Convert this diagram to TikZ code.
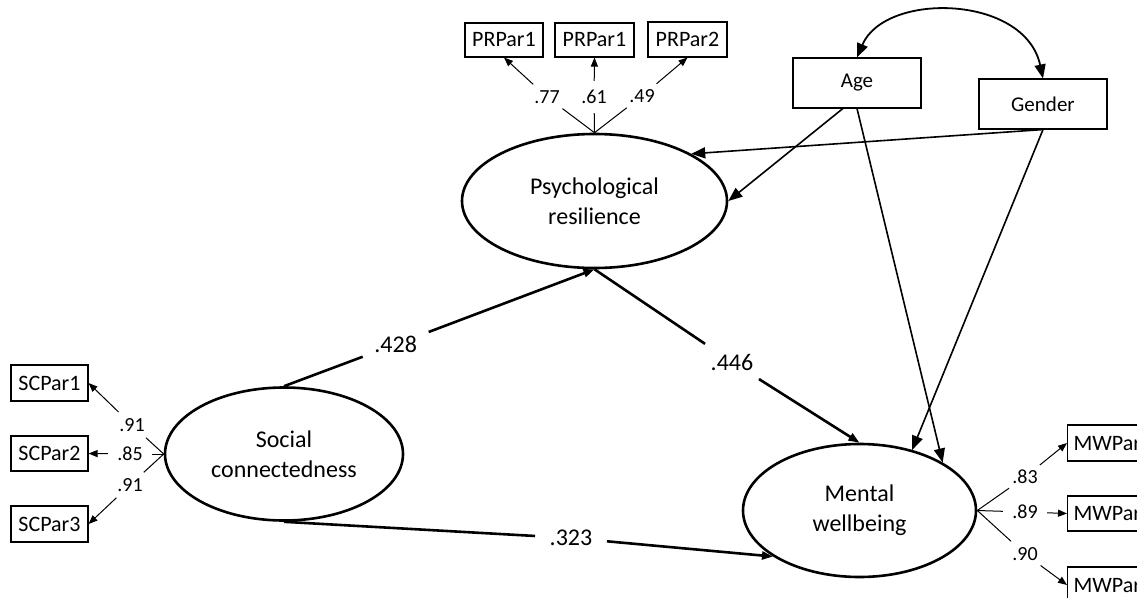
\documentclass[tikz,border=0pt]{standalone}
\usepackage{fontspec}
\setmainfont{Carlito}
\usetikzlibrary{shapes.geometric,arrows.meta}
\begin{document}
\begin{tikzpicture}[x=1pt,y=-1pt,
  lat/.style={ellipse,draw,line width=2.6pt,inner sep=0pt,align=center,font=\fontsize{24}{30}\selectfont},
  obs/.style={rectangle,draw,line width=1.1pt,inner sep=0pt,font=\fontsize{22}{26}\selectfont},
  ldg/.style={ellipse,inner sep=0pt,minimum width=44pt,minimum height=32pt,font=\fontsize{20}{24}\selectfont},
  coef/.style={inner ysep=10pt,font=\fontsize{24}{28}\selectfont},
  fan/.style={line width=1pt},
  ind/.style={line width=1pt,-{Triangle[length=9pt,width=7pt]}},
  mainpath/.style={line width=2.6pt},
  maintip/.style={mainpath,-{Triangle[length=11pt,width=8pt]}},
  cov/.style={line width=1.6pt,-{Triangle[length=14pt,width=11pt]}},
  covboth/.style={line width=1.8pt,{Triangle[length=14pt,width=11pt]}-{Triangle[length=14pt,width=11pt]}},
]
\useasboundingbox (0,0) rectangle (1137,597);
\clip (0,0) rectangle (1137,597);

% latent variables
\node[lat,minimum width=265pt,minimum height=134pt] (pr) at (594.5,201) {Psychological\\resilience};
\node[lat,minimum width=238pt,minimum height=133pt] (sc) at (284,454) {Social\\connectedness};
\node[lat,minimum width=233pt,minimum height=133pt] (mw) at (859.5,510.5) {Mental\\wellbeing};

% observed indicators
\node[obs,minimum width=78pt,minimum height=34pt] (prp1) at (504,40) {PRPar1};
\node[obs,minimum width=79pt,minimum height=34pt] (prp2) at (594.5,40) {PRPar1};
\node[obs,minimum width=79pt,minimum height=35pt] (prp3) at (687.5,39.5) {PRPar2};

\node[obs,minimum width=77pt,minimum height=36pt] (scp1) at (49.5,383) {SCPar1};
\node[obs,minimum width=77pt,minimum height=35pt] (scp2) at (49.5,453.5) {SCPar2};
\node[obs,minimum width=77pt,minimum height=36pt] (scp3) at (49.5,524) {SCPar3};

\node[obs,anchor=west,inner xsep=6pt,minimum height=36pt] (mwp1) at (1067,443) {MWPar1};
\node[obs,anchor=west,inner xsep=6pt,minimum height=35pt] (mwp2) at (1067,513.5) {MWPar2};
\node[obs,anchor=west,inner xsep=6pt,minimum height=36pt] (mwp3) at (1067,585) {MWPar3};

% covariates
\node[obs,minimum width=128pt,minimum height=50pt,font=\fontsize{21}{25}\selectfont] (age) at (857,83) {Age};
\node[obs,minimum width=128pt,minimum height=50pt,font=\fontsize{21}{25}\selectfont] (gender) at (1043,104) {Gender};

% loading labels
\node[ldg] (l77) at (547,97) {.77};
\node[ldg] (l61) at (594,97) {.61};
\node[ldg] (l49) at (642,96) {.49};
\node[ldg] (s91a) at (132,425) {.91};
\node[ldg] (s85) at (130,454) {.85};
\node[ldg] (s91b) at (130,485) {.91};
\node[ldg] (m83) at (1025,477) {.83};
\node[ldg] (m89) at (1025,512) {.89};
\node[ldg] (m90) at (1025,554) {.90};

% loadings: PR
\draw[fan] (pr.north) -- (l77);
\draw[fan] (pr.north) -- (l61);
\draw[fan] (pr.north) -- (l49);
\draw[ind] (l77) -- (prp1.south);
\draw[ind] (l61) -- (prp2.south);
\draw[ind] (l49) -- (prp3.south);

% loadings: SC
\draw[fan] (sc.west) -- (s91a);
\draw[fan] (sc.west) -- (s85);
\draw[fan] (sc.west) -- (s91b);
\draw[ind] (s91a) -- (scp1.east);
\draw[ind] (s85) -- (scp2.east);
\draw[ind] (s91b) -- (scp3.east);

% loadings: MW
\draw[fan] (mw.east) -- (m83);
\draw[fan] (mw.east) -- (m89);
\draw[fan] (mw.east) -- (m90);
\draw[ind] (m83) -- (mwp1.west);
\draw[ind] (m89) -- (mwp2.west);
\draw[ind] (m90) -- (mwp3.west);

% structural paths
\node[coef,inner xsep=11.5pt] (c428) at (395.7,344.4) {.428};
\node[coef,inner xsep=5.5pt] (c446) at (732,362) {.446};
\node[coef,inner xsep=14.5pt] (c323) at (571,538) {.323};

\draw[mainpath] (sc.north) -- (c428);
\draw[maintip] (c428) -- (pr.south);
\draw[mainpath] (pr.south) -- (c446);
\draw[maintip] (c446) -- (mw.north);
\draw[mainpath] (sc.south) -- (c323);
\draw[maintip] (c323) -- (mw.208.6);

% covariate paths
\draw[cov] (gender.south) -- (pr.26);
\draw[cov] (age.241) -- (pr.east);
\draw[cov] (age.south) -- (mw.30);
\draw[cov] (gender.south) -- (mw.49);

% covariance
\draw[covboth] (age.north) .. controls +(28,-66) and +(-18,-84) .. (gender.north);
\end{tikzpicture}
\end{document}
